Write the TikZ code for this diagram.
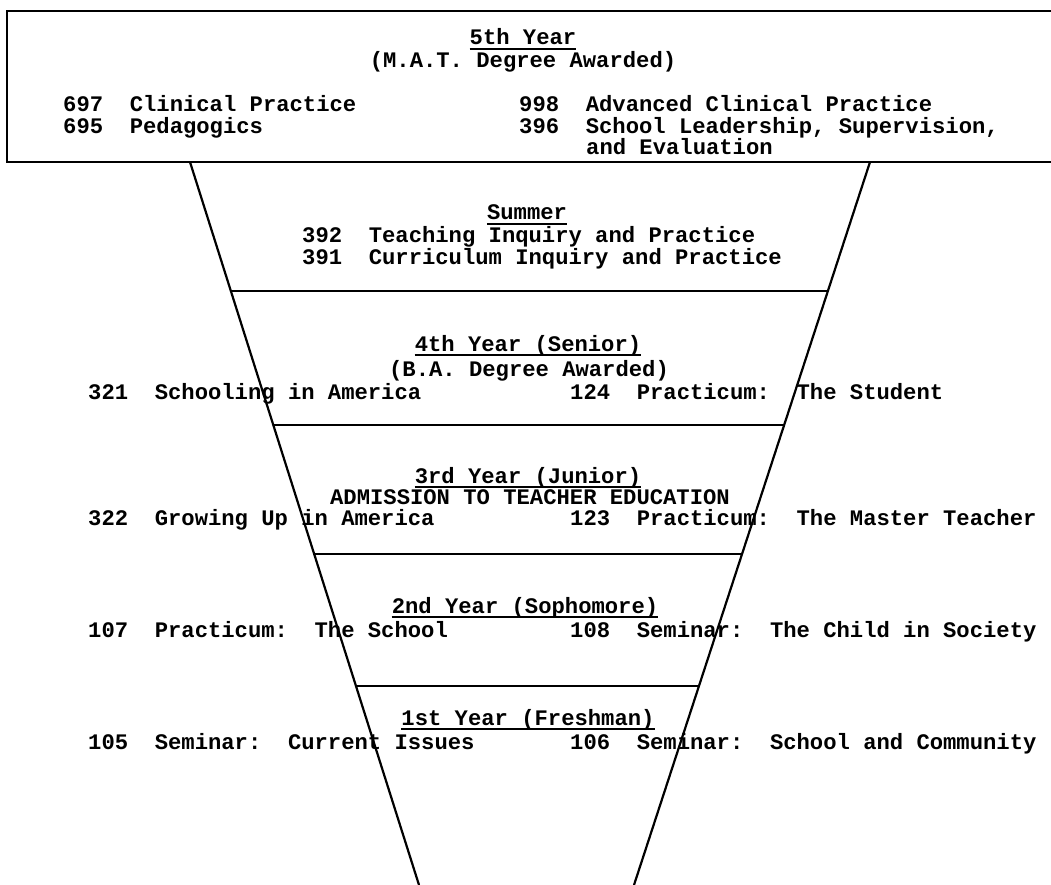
\documentclass[tikz,border=0pt]{standalone}
\usepackage{fontspec}
\setmainfont{Liberation Mono}
\usepackage{tikz}
\usetikzlibrary{calc}

\begin{document}
\begin{tikzpicture}[
    x=1pt, y=-1pt,
    every node/.style={font=\fontsize{22.2}{24}\selectfont\bfseries, inner sep=0pt, text height=14pt, text depth=2pt},
    title/.style={anchor=base},
    course/.style={anchor=base west},
    frame/.style={line width=2.2pt},
    divider/.style={line width=2pt},
    uline/.style={line width=1.6pt}
]
\useasboundingbox (0,0) rectangle (1051,885);
\clip (0,0) rectangle (1051,885);

% 5th Year box
\draw[frame] (7,11) rectangle (1070,162);
\node[title] (y5) at (523,45) {5th Year};
\node[title] (mat) at (523,68) {(M.A.T. Degree Awarded)};
\node[course] (c697) at (63,112) {697~~Clinical Practice};
\node[course] (c695) at (63,134) {695~~Pedagogics};
\node[course] (c998) at (519,112) {998~~Advanced Clinical Practice};
\node[course] (c396) at (519,134) {396~~School Leadership, Supervision,};
\node[course] (c396b) at (586,155) {and Evaluation};

% Funnel
\coordinate (ftl) at (190,162);
\coordinate (fbl) at (419,885);
\coordinate (ftr) at (870,162);
\coordinate (fbr) at (634,885);
\draw[frame] (ftl) -- (fbl);
\draw[frame] (ftr) -- (fbr);

% Dividers
\draw[divider] ($(ftl)!0.1787!(fbl)$) -- ($(ftr)!0.1787!(fbr)$);
\draw[divider] ($(ftl)!0.3643!(fbl)$) -- ($(ftr)!0.3643!(fbr)$);
\draw[divider] ($(ftl)!0.5416!(fbl)$) -- ($(ftr)!0.5416!(fbr)$);
\draw[divider] ($(ftl)!0.7244!(fbl)$) -- ($(ftr)!0.7244!(fbr)$);

% Summer
\node[title] (sum) at (527,220) {Summer};
\node[course] (c392) at (302,243) {392~~Teaching Inquiry and Practice};
\node[course] (c391) at (302,264) {391~~Curriculum Inquiry and Practice};

% 4th Year
\node[title] (y4) at (528,351) {4th Year (Senior)};
\node[title] (ba) at (529,376) {(B.A. Degree Awarded)};
\node[course] (c321) at (88,399) {321~~Schooling in America};
\node[course] (c124) at (570,399) {124~~Practicum:~~The Student};

% 3rd Year
\node[title] (y3) at (528,483) {3rd Year (Junior)};
\node[title] (adm) at (530,504) {ADMISSION TO TEACHER EDUCATION};
\node[course] (c322) at (88,525) {322~~Growing Up in America};
\node[course] (c123) at (570,525) {123~~Practicum:~~The Master Teacher};

% 2nd Year
\node[title] (y2) at (525,613) {2nd Year (Sophomore)};
\node[course] (c107) at (88,637) {107~~Practicum:~~The School};
\node[course] (c108) at (570,637) {108~~Seminar:~~The Child in Society};

% 1st Year
\node[title] (y1) at (528,725) {1st Year (Freshman)};
\node[course] (c105) at (88,749) {105~~Seminar:~~Current Issues};
\node[course] (c106) at (570,749) {106~~Seminar:~~School and Community};

% Underlines
\draw[uline] ($(y5.base west)+(0,4)$) -- ($(y5.base east)+(0,4)$);
\draw[uline] ($(sum.base west)+(0,4)$) -- ($(sum.base east)+(0,4)$);
\draw[uline] ($(y4.base west)+(0,4)$) -- ($(y4.base east)+(0,4)$);
\draw[uline] ($(y3.base west)+(0,4)$) -- ($(y3.base east)+(0,4)$);
\draw[uline] ($(y2.base west)+(0,4)$) -- ($(y2.base east)+(0,4)$);
\draw[uline] ($(y1.base west)+(0,4)$) -- ($(y1.base east)+(0,4)$);

\end{tikzpicture}
\end{document}
